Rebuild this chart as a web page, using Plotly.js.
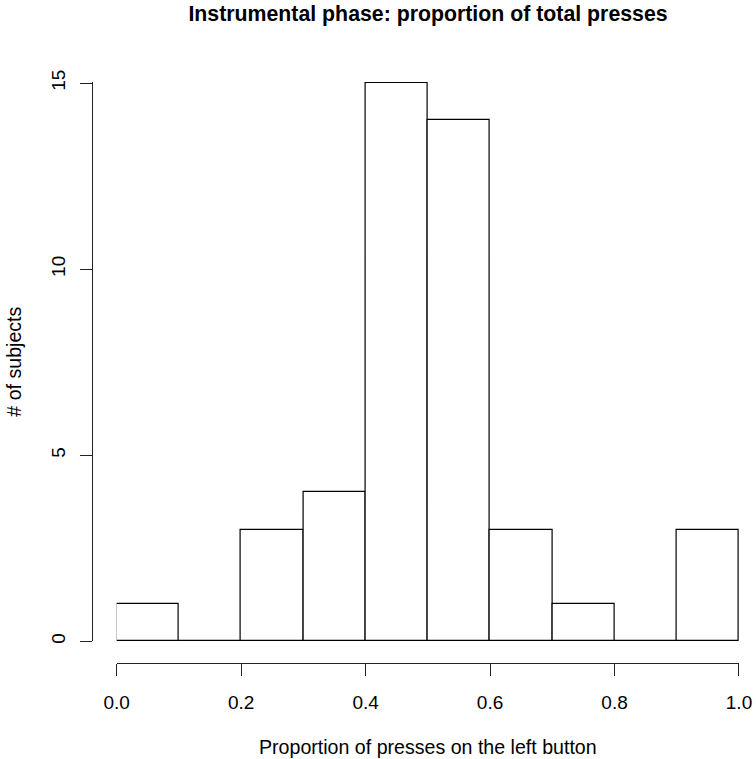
<!DOCTYPE html>
<html>
<head>
<meta charset="utf-8">
<script src="https://cdn.plot.ly/plotly-3.0.1.min.js"></script>
<style>body{margin:0;background:#fff}#chart{width:756px;height:759px}</style>
</head>
<body>
<div id="chart"></div>
<script>
// bin edges and counts
var binStart = [0.0, 0.1, 0.2, 0.3, 0.4, 0.5, 0.6, 0.7, 0.8, 0.9];
var binWidth = 0.1;
var counts = [1, 0, 3, 4, 15, 14, 3, 1, 0, 3];
var xTicks = [0, 0.2, 0.4, 0.6, 0.8, 1.0];
var xTickText = ['0.0', '0.2', '0.4', '0.6', '0.8', '1.0'];
var yTicks = [0, 5, 10, 15];

const centers = binStart.map(b => b + binWidth / 2);

const data = [{
  type: 'bar',
  x: centers,
  y: counts,
  width: binWidth,
  marker: { color: 'white', line: { color: 'black', width: 1.2 } },
  cliponaxis: false,
  hoverinfo: 'x+y'
}];

const fam = 'Liberation Sans';
const tickFont = { family: fam, size: 19, color: '#000' };
const labFont = { family: fam, size: 19.6, color: '#000' };

const layout = {
  width: 756,
  height: 759,
  margin: { l: 60, r: 17, t: 82, b: 96 },
  paper_bgcolor: 'white',
  plot_bgcolor: 'white',
  showlegend: false,
  bargap: 0,
  font: { family: fam, size: 19, color: '#000' },
  title: {
    text: '<b>Instrumental phase: proportion of total presses</b>',
    font: { family: fam, size: 21.3, color: '#000' },
    xref: 'paper', x: 0.542, xanchor: 'center',
    yref: 'container', y: 0.982, yanchor: 'middle'
  },
  xaxis: {
    domain: [0.0835, 1],
    range: [0, 1],
    anchor: 'free',
    position: 0,
    tickvals: xTicks,
    ticktext: xTickText,
    tickfont: tickFont,
    ticks: 'outside',
    ticklen: 12,
    tickcolor: '#222',
    tickwidth: 1.2,
    showline: true,
    linecolor: '#222',
    linewidth: 1.2,
    showgrid: false,
    zeroline: false,
    ticklabelstandoff: 10,
    title: { text: 'Proportion of presses on the left button', standoff: 28, font: labFont }
  },
  yaxis: {
    domain: [0.0373, 1],
    range: [0, 15.03],
    anchor: 'free',
    position: 0.0471,
    tickvals: yTicks,
    tickfont: tickFont,
    ticks: 'outside',
    ticklen: 12,
    tickcolor: '#222',
    tickwidth: 1.2,
    tickangle: -90,
    showline: true,
    linecolor: '#222',
    linewidth: 1.2,
    showgrid: false,
    zeroline: false,
    ticklabelstandoff: 7,
    title: { text: '# of subjects', standoff: 20, font: labFont }
  }
};

Plotly.newPlot('chart', data, layout, { displayModeBar: false });
</script>
</body>
</html>
